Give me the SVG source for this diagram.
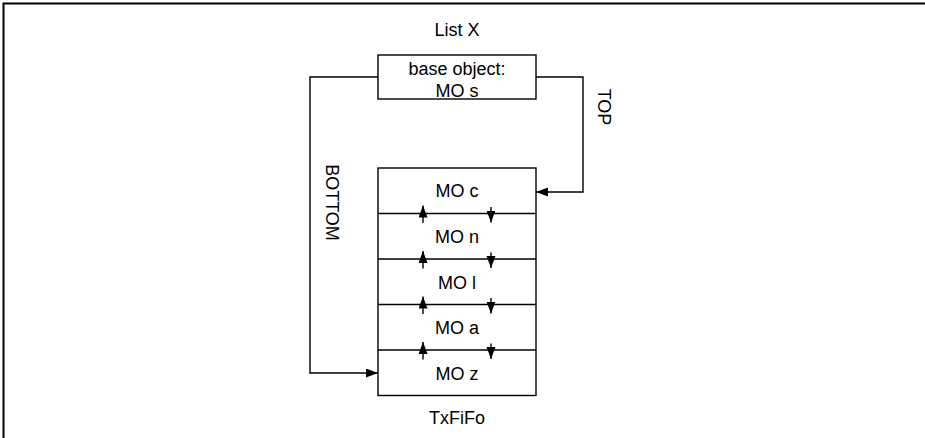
<svg xmlns="http://www.w3.org/2000/svg" width="925" height="438" viewBox="0 0 925 438">
<defs>
<marker id="ah" markerUnits="userSpaceOnUse" markerWidth="12" markerHeight="10" refX="12" refY="4.5" orient="auto">
<path d="M0,0 L12,4.5 L0,9 z" fill="#000"/>
</marker>
<style>
.box{fill:#fff;stroke:#000;stroke-width:1.4}
.ln{fill:none;stroke:#000;stroke-width:1.4}
.t{font-family:"Liberation Sans",Arial,sans-serif;font-size:18px;fill:#000;text-anchor:middle}
</style>
</defs>
<rect width="925" height="438" fill="#fff"/>
<path d="M3.5,438 V3.5 H925" fill="none" stroke="#000" stroke-width="2"/>
<text class="t" x="457" y="35.5">List X</text>
<g id="base">
<rect class="box" x="378" y="55" width="158" height="44"/>
<text class="t" x="457" y="74.5">base object:</text>
<text class="t" x="457" y="96.5">MO s</text>
</g>
<g id="fifo">
<rect class="box" x="378" y="168" width="158" height="227.5"/>
<line class="ln" x1="378" y1="213.5" x2="536" y2="213.5"/>
<line class="ln" x1="378" y1="259" x2="536" y2="259"/>
<line class="ln" x1="378" y1="304.5" x2="536" y2="304.5"/>
<line class="ln" x1="378" y1="350" x2="536" y2="350"/>
<text class="t" x="457" y="197">MO c</text>
<text class="t" x="457" y="243">MO n</text>
<text class="t" x="457" y="288.5">MO l</text>
<text class="t" x="457" y="334">MO a</text>
<text class="t" x="457" y="379.5">MO z</text>
<text class="t" x="457" y="424">TxFiFo</text>
</g>
<g id="connectors">
<path class="ln" d="M378,77 H310 V373 H378" marker-end="url(#ah)"/>
<path class="ln" d="M536,77 H583 V192 H536" marker-end="url(#ah)"/>
<path class="ln" d="M423,223 V205.5" marker-end="url(#ah)"/>
<path class="ln" d="M491,207 V222.5" marker-end="url(#ah)"/>
<path class="ln" d="M423,268.5 V251" marker-end="url(#ah)"/>
<path class="ln" d="M491,252.5 V268" marker-end="url(#ah)"/>
<path class="ln" d="M423,314 V296.5" marker-end="url(#ah)"/>
<path class="ln" d="M491,298 V313.5" marker-end="url(#ah)"/>
<path class="ln" d="M423,359.5 V342" marker-end="url(#ah)"/>
<path class="ln" d="M491,343.5 V359" marker-end="url(#ah)"/>
<text class="t" transform="translate(598,107) rotate(90)">TOP</text>
<text class="t" transform="translate(326,202.5) rotate(90)">BOTTOM</text>
</g>
</svg>
